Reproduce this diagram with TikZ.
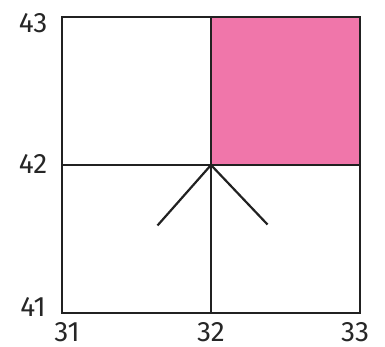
\documentclass[tikz,border=0pt]{standalone}
\usepackage{fontspec}
\setmainfont{Fira Sans}
\usepackage{tikz}

\begin{document}
\begin{tikzpicture}[
  x=0.5pt, y=-0.5pt,
  every node/.style={inner sep=0pt},
  lbl/.style={font=\fontsize{14}{16}\selectfont, text=black!85},
  grd/.style={draw=black!87, line width=1.1pt},
  ray/.style={draw=black!87, line width=1.1pt},
]
  \useasboundingbox (0,0) rectangle (385,347);
  \coordinate (c31) at (62,313);
  \coordinate (c33) at (360,17);
  \coordinate (mid) at (211,165);
  \coordinate (lft) at (157.5,225.5);
  \coordinate (rgt) at (267.5,224.5);
  \fill[fill={rgb,255:red,240;green,118;blue,170}] (mid) rectangle (c33);
  \draw[grd] (c31) rectangle (c33);
  \draw[grd] (62,165) -- (360,165);
  \draw[grd] (211,17) -- (211,313);
  \draw[ray] (mid) -- (lft);
  \draw[ray] (mid) -- (rgt);
  \node[lbl] (y43) at (33,23) {43};
  \node[lbl] (y42) at (33,164) {42};
  \node[lbl] (y41) at (33,307) {41};
  \node[lbl] (x31) at (67,332) {31};
  \node[lbl] (x32) at (211,332) {32};
  \node[lbl] (x33) at (355,332) {33};
\end{tikzpicture}
\end{document}
